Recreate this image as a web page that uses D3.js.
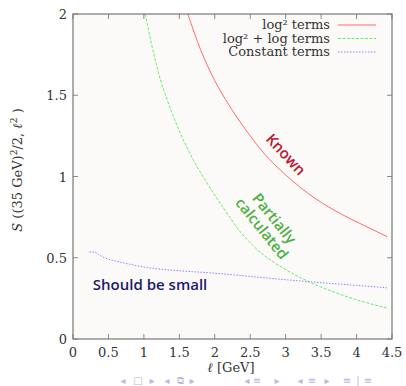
<!DOCTYPE html>
<html>
<head>
<meta charset="utf-8">
<script src="https://cdnjs.cloudflare.com/ajax/libs/d3/7.8.5/d3.min.js"></script>
<style>
  body { margin: 0; background: #ffffff; }
  svg { display: block; }
</style>
</head>
<body>
<div id="chart"></div>
<script>
// data: [ell in GeV, S]
const log2Terms = [[1.62, 2.0], [1.8, 1.78], [2.0, 1.59], [2.2, 1.44], [2.4, 1.31], [2.7, 1.14],
  [3.0, 1.01], [3.4, 0.87], [3.8, 0.765], [4.1, 0.70], [4.43, 0.63]];
const log2LogTerms = [[1.02, 2.0], [1.1, 1.83], [1.23, 1.6], [1.33, 1.47], [1.51, 1.27], [1.7, 1.1],
  [1.89, 0.96], [2.1, 0.82], [2.36, 0.66], [2.6, 0.55], [2.95, 0.44], [3.34, 0.35], [3.8, 0.27], [4.43, 0.19]];
const constantTerms = [[0.23, 0.535], [0.3, 0.535], [0.36, 0.52], [0.42, 0.505], [0.6, 0.48], [0.8, 0.46],
  [1.04, 0.44], [1.5, 0.42], [2.0, 0.405], [2.5, 0.385], [3.0, 0.365], [3.4, 0.35], [4.0, 0.33], [4.43, 0.315]];
const xTicks = [0, 0.5, 1, 1.5, 2, 2.5, 3, 3.5, 4, 4.5];
const yTicks = [0, 0.5, 1, 1.5, 2];
const legendLabels = ["log² terms", "log² + log terms", "Constant terms"];

const width = 406, height = 386;
const margin = { left: 73, right: 14, top: 14, bottom: 47 };

const svg = d3.select("#chart").append("svg")
  .attr("width", width)
  .attr("height", height);

const x = d3.scaleLinear().domain([0, 4.5]).range([margin.left, width - margin.right]);
const y = d3.scaleLinear().domain([0, 2]).range([height - margin.bottom, margin.top]);

// plot background
svg.append("rect")
  .attr("x", x(0)).attr("y", y(2))
  .attr("width", x(4.5) - x(0)).attr("height", y(0) - y(2))
  .attr("fill", "#fcfaf8");

const serif = "'DejaVu Serif', 'Liberation Serif', serif";
const tickLen = 5;

// ticks (inward, on all four sides)
const axes = svg.append("g").attr("stroke", "#888").attr("stroke-width", 1);
xTicks.forEach(t => {
  axes.append("line").attr("x1", x(t)).attr("x2", x(t)).attr("y1", y(0)).attr("y2", y(0) - tickLen);
  axes.append("line").attr("x1", x(t)).attr("x2", x(t)).attr("y1", y(2)).attr("y2", y(2) + tickLen);
});
yTicks.forEach(t => {
  axes.append("line").attr("x1", x(0)).attr("x2", x(0) + tickLen).attr("y1", y(t)).attr("y2", y(t));
  axes.append("line").attr("x1", x(4.5)).attr("x2", x(4.5) - tickLen).attr("y1", y(t)).attr("y2", y(t));
});

svg.append("g")
  .selectAll("text").data(xTicks).enter().append("text")
  .attr("x", d => x(d)).attr("y", y(0) + 18)
  .attr("text-anchor", "middle")
  .attr("font-family", serif).attr("font-size", 13).attr("fill", "#333")
  .text(d => d);

svg.append("g")
  .selectAll("text").data(yTicks).enter().append("text")
  .attr("x", x(0) - 6).attr("y", d => y(d) + 5)
  .attr("text-anchor", "end")
  .attr("font-family", serif).attr("font-size", 13).attr("fill", "#333")
  .text(d => d);

// curves
const line = d3.line().x(d => x(d[0])).y(d => y(d[1])).curve(d3.curveMonotoneX);
svg.append("clipPath").attr("id", "plotclip").append("rect")
  .attr("x", x(0)).attr("y", y(2)).attr("width", x(4.5) - x(0)).attr("height", y(0) - y(2));

const series = [
  { data: log2Terms, color: "#ff6a6a", dash: null },
  { data: log2LogTerms, color: "#66ee66", dash: "3,1.5" },
  { data: constantTerms, color: "#8888ff", dash: "1.5,1.5" }
];
svg.append("g").attr("clip-path", "url(#plotclip)")
  .selectAll("path").data(series).enter().append("path")
  .attr("d", d => line(d.data))
  .attr("fill", "none")
  .attr("stroke", d => d.color)
  .attr("stroke-width", 1)
  .attr("stroke-dasharray", d => d.dash);

// frame
svg.append("rect")
  .attr("x", x(0)).attr("y", y(2))
  .attr("width", x(4.5) - x(0)).attr("height", y(0) - y(2))
  .attr("fill", "none").attr("stroke", "#777").attr("stroke-width", 1.2);

// legend
const legend = svg.append("g");
legendLabels.forEach((lab, i) => {
  const ly = 25 + i * 13.5;
  legend.append("text")
    .attr("x", 330).attr("y", ly + 4)
    .attr("text-anchor", "end")
    .attr("font-family", serif).attr("font-size", 13).attr("fill", "#333")
    .text(lab);
  legend.append("line")
    .attr("x1", 338).attr("x2", 376).attr("y1", ly).attr("y2", ly)
    .attr("stroke", series[i].color).attr("stroke-width", 1)
    .attr("stroke-dasharray", series[i].dash);
});

// annotations
const sans = "'Open Sans', 'DejaVu Sans', sans-serif";
svg.append("text")
  .attr("transform", `translate(${x(2.99)},${y(1.13)}) rotate(47)`)
  .attr("text-anchor", "middle").attr("dominant-baseline", "middle")
  .attr("font-family", sans).attr("font-weight", 600).attr("font-size", 15)
  .attr("fill", "#c0152e")
  .text("Known");

const pc = svg.append("g")
  .attr("transform", `translate(${x(2.75)},${y(0.71)}) rotate(51)`)
  .attr("font-family", sans).attr("font-weight", 600).attr("font-size", 15)
  .attr("fill", "#4eb042").attr("text-anchor", "middle");
pc.append("text").attr("x", 0).attr("y", -3).text("Partially");
pc.append("text").attr("x", 0).attr("y", 13).text("calculated");

svg.append("text")
  .attr("x", x(0.28)).attr("y", y(0.3))
  .attr("font-family", sans).attr("font-weight", 600).attr("font-size", 15)
  .attr("fill", "#1c1a6c")
  .text("Should be small");

// axis titles
svg.append("text")
  .attr("x", 231).attr("y", 372)
  .attr("text-anchor", "middle")
  .attr("font-family", serif).attr("font-size", 13).attr("fill", "#333")
  .html("<tspan font-style='italic'>ℓ</tspan> [GeV]");

svg.append("text")
  .attr("transform", `translate(22,${y(1.04)}) rotate(-90)`)
  .attr("text-anchor", "middle")
  .attr("font-family", serif).attr("font-size", 13).attr("fill", "#333")
  .html("<tspan font-style='italic'>S</tspan> ((35 GeV)<tspan baseline-shift='super' font-size='9'>2</tspan>/2, <tspan font-style='italic'>ℓ</tspan><tspan baseline-shift='super' font-size='9'>2</tspan> )");

// beamer navigation symbols
const navGlyphs = [[123, "◂"], [138, "□"], [152, "▸"], [167, "◂"], [180, "⧉"], [192, "▸"], [247, "◂"], [257, "≡"],
  [277, "▸"], [300, "◂"], [312, "≡"], [327, "▸"], [347, "≡"], [358, "|"], [368, "≡"]];
svg.append("g")
  .selectAll("text").data(navGlyphs).enter().append("text")
  .attr("x", d => d[0]).attr("y", 384)
  .attr("text-anchor", "middle")
  .attr("font-family", "'DejaVu Sans', sans-serif").attr("font-size", 10)
  .attr("fill", "#b6bcd4")
  .text(d => d[1]);
</script>
</body>
</html>
